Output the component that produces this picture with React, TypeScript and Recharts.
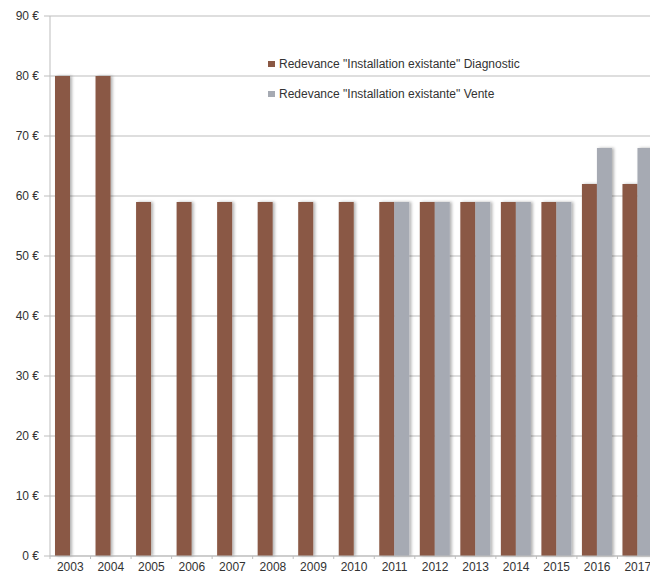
import { Bar, BarChart, CartesianGrid, XAxis, YAxis } from "recharts";

const YEARS = ["2003", "2004", "2005", "2006", "2007", "2008", "2009", "2010", "2011", "2012", "2013", "2014", "2015", "2016", "2017"];
const DIAGNOSTIC = [80, 80, 59, 59, 59, 59, 59, 59, 59, 59, 59, 59, 59, 62, 62];
const VENTE = [null, null, null, null, null, null, null, null, 59, 59, 59, 59, 59, 68, 68];
const Y_TICKS = [0, 10, 20, 30, 40, 50, 60, 70, 80, 90];

const BROWN = "#8a5844";
const GREY = "#a6aab3";
const LINE = "#bdbdbd";
const TEXT = "#333333";
const FONT = "'Liberation Sans', Arial, sans-serif";

const data = YEARS.map((year, i) => ({ year, diag: DIAGNOSTIC[i], vente: VENTE[i] }));

const SERIES = [
  { key: "diag", name: 'Redevance "Installation existante" Diagnostic', color: BROWN },
  { key: "vente", name: 'Redevance "Installation existante" Vente', color: GREY },
];

// year label centred on the band, small outward tick on the band's left edge
function YearTick({ x, y, payload, band }: any) {
  const left = x - band / 2;
  return (
    <g>
      <line x1={left} x2={left} y1={y} y2={y + 3} stroke={LINE} />
      <text x={x} y={y + 15} textAnchor="middle" fontSize={12} fill={TEXT} fontFamily={FONT}>
        {payload.value}
      </text>
    </g>
  );
}

function LegendBox() {
  return (
    <div style={{ position: "absolute", left: 268, top: 56, fontFamily: FONT, fontSize: 12, color: TEXT }}>
      {SERIES.map((s, i) => (
        <div key={s.key} style={{ display: "flex", alignItems: "center", height: 16, marginBottom: i === 0 ? 14 : 0 }}>
          <span style={{ display: "inline-block", width: 7, height: 6, background: s.color, marginRight: 4 }} />
          {s.name}
        </div>
      ))}
    </div>
  );
}

export default function App() {
  const width = 658;
  const band = (width - 50) / YEARS.length;
  return (
    <div style={{ position: "absolute", left: 0, top: 0, width: 650, height: 576, overflow: "hidden", background: "#fff" }}>
      <BarChart
        width={width}
        height={576}
        data={data}
        margin={{ top: 16, right: 0, left: 0, bottom: 0 }}
        barCategoryGap={5}
        barGap={0}
      >
        <defs>
          <filter id="barShadow" x="-20%" y="-5%" width="160%" height="110%">
            <feDropShadow dx={2} dy={0} stdDeviation={1.4} floodColor="#000" floodOpacity={0.3} />
          </filter>
        </defs>
        <CartesianGrid stroke={LINE} vertical={false} />
        <XAxis
          dataKey="year"
          height={20}
          axisLine={{ stroke: LINE }}
          tickLine={false}
          tickSize={0}
          tickMargin={0}
          interval={0}
          tick={<YearTick band={band} />}
        />
        <YAxis
          domain={[0, 90]}
          ticks={Y_TICKS}
          width={50}
          axisLine={{ stroke: LINE }}
          tickLine={{ stroke: LINE }}
          tickSize={6}
          tickMargin={5}
          tickFormatter={(v) => `${v} €`}
          tick={{ fontSize: 12, fill: TEXT, fontFamily: FONT }}
        />
        {SERIES.map((s) => (
          <Bar key={s.key} dataKey={s.key} name={s.name} fill={s.color} filter="url(#barShadow)" isAnimationActive={false} />
        ))}
      </BarChart>
      <LegendBox />
    </div>
  );
}
